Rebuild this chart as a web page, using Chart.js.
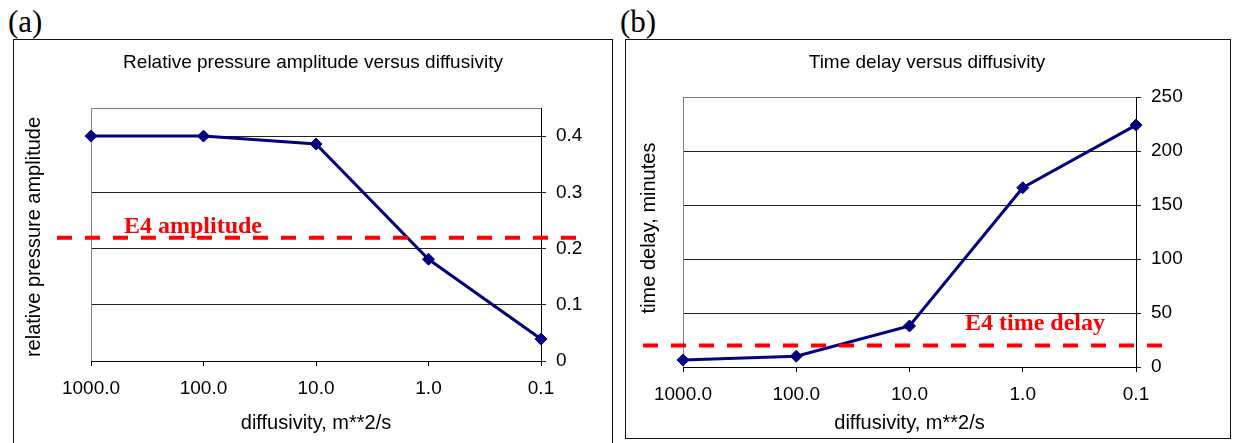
<!DOCTYPE html>
<html>
<head>
<meta charset="utf-8">
<script src="https://cdn.jsdelivr.net/npm/chart.js@4/dist/chart.umd.min.js"></script>
<style>
  html, body { margin: 0; padding: 0; background: #fff; }
  body { width: 1233px; height: 443px; position: relative; overflow: hidden; }
  .box { position: absolute; border: 1.5px solid #111; box-sizing: border-box; }
  .tag { position: absolute; font: 31px "Liberation Serif", "Times New Roman", serif; color: #000; line-height: 1; }
  canvas { position: absolute; top: 0; }
</style>
</head>
<body>
<div class="tag" style="left:8px; top:6px;">(a)</div>
<div class="tag" style="left:620px; top:6px;">(b)</div>
<div class="box" style="left:13px; top:39px; width:600px; height:430px;"></div>
<div class="box" style="left:625px; top:39px; width:606px; height:400px;"></div>
<div style="position:absolute; left:0; top:0; width:615px; height:443px;"><canvas id="chartA"></canvas></div>
<div style="position:absolute; left:615px; top:0; width:618px; height:443px;"><canvas id="chartB"></canvas></div>

<script>
// Diffusivity categories, m**2/s (plotted in this order, left to right)
const CATEGORIES = ['1000.0', '100.0', '10.0', '1.0', '0.1'];

// (a) relative pressure amplitude
const AMPLITUDE = [0.4, 0.4, 0.386, 0.181, 0.039];
const AMP_TICKS = [0, 0.1, 0.2, 0.3, 0.4];
const AMP_MAX = 0.45;
const E4_AMPLITUDE = 0.219;

// (b) time delay, minutes
const TIME_DELAY = [6.5, 10, 38, 166, 224];
const DELAY_TICKS = [0, 50, 100, 150, 200, 250];
const DELAY_MAX = 250;
const E4_TIME_DELAY = 20;

const SANS = '"Liberation Sans", Arial, sans-serif';
const SERIF = '"Liberation Serif", "Times New Roman", serif';
const NAVY = '#000080';

// Titles, plot frame and the E4 reference line
const panelDecor = {
    id: 'panelDecor',
    beforeDatasetsDraw(chart, args, o) {
        const {ctx, chartArea: a} = chart;
        ctx.save();
        ctx.strokeStyle = '#808080';
        ctx.lineWidth = 1;
        ctx.beginPath();
        ctx.moveTo(a.left + 0.5, a.bottom);
        ctx.lineTo(a.left + 0.5, a.top + 0.5);
        ctx.lineTo(a.right, a.top + 0.5);
        ctx.stroke();
        ctx.restore();
    },
    afterDatasetsDraw(chart, args, o) {
        const {ctx, chartArea: a, scales: {y}} = chart;
        const py = y.getPixelForValue(o.refValue);
        ctx.save();
        ctx.strokeStyle = '#ff0000';
        ctx.lineWidth = 4;
        ctx.setLineDash([15, 13]);
        ctx.beginPath();
        ctx.moveTo(a.left - o.refLeft, py);
        ctx.lineTo(a.right + o.refRight, py);
        ctx.stroke();
        ctx.setLineDash([]);
        ctx.fillStyle = '#ff0000';
        ctx.font = `bold 24px ${SERIF}`;
        ctx.textAlign = 'left';
        ctx.textBaseline = 'alphabetic';
        ctx.fillText(o.refLabel, o.refLabelX, py - o.refLabelLift);
        ctx.restore();
    },
    afterDraw(chart, args, o) {
        const {ctx, chartArea: a} = chart;
        ctx.save();
        ctx.fillStyle = '#000';
        ctx.textAlign = 'center';
        ctx.textBaseline = 'middle';
        ctx.font = `19px ${SANS}`;
        ctx.fillText(o.title, o.titleX, 63);
        ctx.font = `20px ${SANS}`;
        ctx.fillText('diffusivity, m**2/s', (a.left + a.right) / 2, 423);
        ctx.translate(o.yTitleX, o.yTitleY);
        ctx.rotate(-Math.PI / 2);
        ctx.fillText(o.yTitle, 0, 0);
        ctx.restore();
    },
};

function makeChart(id, values, ticks, yMax, layout, decor) {
    return new Chart(document.getElementById(id), {
        type: 'line',
        data: {
            labels: CATEGORIES,
            datasets: [{
                data: values,
                borderColor: NAVY,
                backgroundColor: NAVY,
                borderWidth: 3,
                pointStyle: 'rectRot',
                pointRadius: 6,
                pointBorderWidth: 1,
                pointBackgroundColor: NAVY,
                pointBorderColor: NAVY,
                tension: 0,
            }],
        },
        options: {
            responsive: true,
            maintainAspectRatio: false,
            animation: false,
            devicePixelRatio: 1,
            layout: {padding: layout},
            plugins: {
                legend: {display: false},
                tooltip: {enabled: false},
                title: {display: false},
                panelDecor: decor,
            },
            scales: {
                x: {
                    type: 'category',
                    offset: false,
                    border: {display: true, color: '#000', width: 1},
                    grid: {drawOnChartArea: false, drawTicks: true, tickLength: 5, color: '#000'},
                    ticks: {color: '#000', font: {family: SANS, size: 19}, padding: 11, maxRotation: 0, autoSkip: false},
                    afterFit(scale) { scale.height = 40; },
                },
                y: {
                    position: 'right',
                    min: 0,
                    max: yMax,
                    border: {display: true, color: '#000', width: 1},
                    grid: {color: '#222', lineWidth: 1, drawTicks: true, tickLength: 5},
                    ticks: {color: '#000', font: {family: SANS, size: 19}, padding: 10,
                        callback: v => String(v)},
                    afterBuildTicks(scale) { scale.ticks = ticks.map(v => ({value: v})); },
                    afterFit(scale) { scale.width = 50; },
                },
            },
        },
        plugins: [panelDecor],
    });
}

makeChart('chartA', AMPLITUDE, AMP_TICKS, AMP_MAX,
    {left: 91, right: 24, top: 108, bottom: 42},
    {
        title: 'Relative pressure amplitude versus diffusivity', titleX: 313,
        yTitle: 'relative pressure amplitude', yTitleX: 34, yTitleY: 237,
        refValue: E4_AMPLITUDE, refLabel: 'E4 amplitude',
        refLeft: 34, refRight: 36, refLabelX: 124, refLabelLift: 5,
    });

makeChart('chartB', TIME_DELAY, DELAY_TICKS, DELAY_MAX,
    {left: 68, right: 47, top: 97, bottom: 36},
    {
        title: 'Time delay versus diffusivity', titleX: 312,
        yTitle: 'time delay, minutes', yTitleX: 34, yTitleY: 228,
        refValue: E4_TIME_DELAY, refLabel: 'E4 time delay',
        refLeft: 40, refRight: 27, refLabelX: 350, refLabelLift: 15,
    });
</script>
</body>
</html>
